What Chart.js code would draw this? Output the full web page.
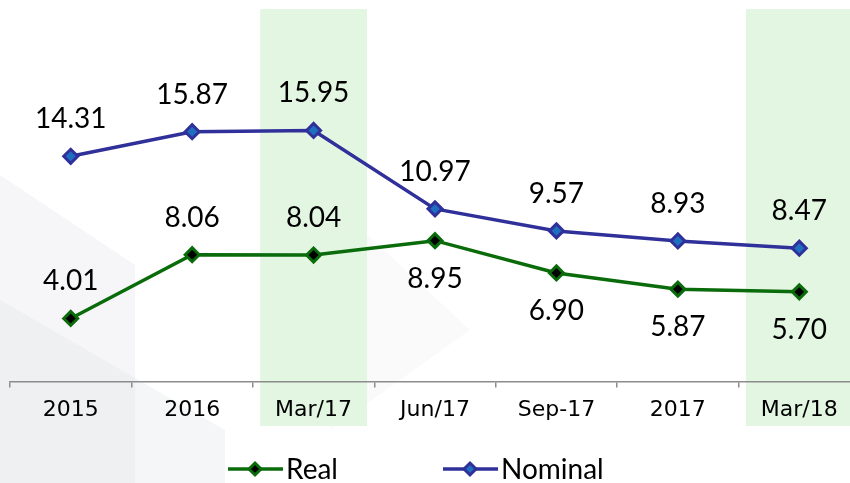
<!DOCTYPE html>
<html>
<head>
<meta charset="utf-8">
<script src="https://cdn.jsdelivr.net/npm/chart.js@4/dist/chart.umd.min.js"></script>
<style>
  html, body { margin: 0; padding: 0; background: #ffffff; overflow: hidden; width: 850px; height: 483px; }
  #wrap { position: relative; width: 870px; height: 483px; }
</style>
</head>
<body>
<div id="wrap"><canvas id="c" width="870" height="483"></canvas></div>
<script>
// ---- data ----
const categories = ['2015', '2016', 'Mar/17', 'Jun/17', 'Sep-17', '2017', 'Mar/18'];
const realValues = [4.01, 8.06, 8.04, 8.95, 6.90, 5.87, 5.70];
const nominalValues = [14.31, 15.87, 15.95, 10.97, 9.57, 8.93, 8.47];
const highlightedCategories = ['Mar/17', 'Mar/18'];
const realLabelSide = ['above', 'above', 'above', 'below', 'below', 'below', 'below'];
const nominalLabelSide = ['above', 'above', 'above', 'above', 'above', 'above', 'above'];
const seriesNames = ['Real', 'Nominal'];

// ---- styles ----
const REAL_LINE = '#0a6b0a';
const REAL_FILL = '#000000';
const NOM_LINE = '#30309a';
const NOM_FILL = '#1f6fc0';
const LABEL_FONT = '28px Lato, "Open Sans", sans-serif';

const bgPlugin = {
  id: 'bg',
  beforeDraw(chart) {
    const ctx = chart.ctx;
    ctx.save();
    ctx.fillStyle = '#ffffff';
    ctx.fillRect(0, 0, chart.width, chart.height);
    // faint decorative background shapes
    ctx.fillStyle = 'rgba(228,230,234,0.35)';
    ctx.beginPath();
    ctx.moveTo(0, 175); ctx.lineTo(135, 265); ctx.lineTo(135, 483); ctx.lineTo(0, 483); ctx.closePath(); ctx.fill();
    ctx.fillStyle = 'rgba(222,224,228,0.3)';
    ctx.beginPath();
    ctx.moveTo(0, 300); ctx.lineTo(225, 430); ctx.lineTo(225, 483); ctx.lineTo(0, 483); ctx.closePath(); ctx.fill();
    ctx.fillStyle = 'rgba(235,237,240,0.25)';
    ctx.beginPath();
    ctx.moveTo(330, 200); ctx.lineTo(470, 330); ctx.lineTo(330, 430); ctx.closePath(); ctx.fill();
    ctx.restore();

    // highlight columns
    const x = chart.scales.x;
    const step = x.getPixelForValue(1) - x.getPixelForValue(0);
    const w = step * 0.88;
    ctx.save();
    ctx.fillStyle = '#e2f6e2';
    highlightedCategories.forEach(c => {
      const i = categories.indexOf(c);
      const cx = x.getPixelForValue(i);
      ctx.fillRect(cx - w / 2, 9, w, 417);
    });
    ctx.restore();
  }
};

const labelPlugin = {
  id: 'vlabels',
  afterDatasetsDraw(chart) {
    const ctx = chart.ctx;
    ctx.save();
    ctx.font = LABEL_FONT;
    ctx.fillStyle = '#000000';
    ctx.textAlign = 'center';
    ctx.textBaseline = 'middle';
    const sides = [realLabelSide, nominalLabelSide];
    chart.data.datasets.forEach((ds, di) => {
      const meta = chart.getDatasetMeta(di);
      meta.data.forEach((pt, i) => {
        const off = sides[di][i] === 'above' ? -37 : 38;
        ctx.fillText(ds.data[i].toFixed(2), pt.x, pt.y + off);
      });
    });
    ctx.restore();
  }
};

function diamond(ctx, x, y, r, fill, stroke) {
  ctx.beginPath();
  ctx.moveTo(x, y - r); ctx.lineTo(x + r, y); ctx.lineTo(x, y + r); ctx.lineTo(x - r, y); ctx.closePath();
  ctx.fillStyle = fill; ctx.fill();
  ctx.lineWidth = 3; ctx.strokeStyle = stroke; ctx.stroke();
}

const legendPlugin = {
  id: 'customLegend',
  afterDraw(chart) {
    const ctx = chart.ctx;
    ctx.save();
    const y = 469;
    const items = [
      { name: seriesNames[0], x0: 228, line: REAL_LINE, fill: REAL_FILL },
      { name: seriesNames[1], x0: 443, line: NOM_LINE, fill: NOM_FILL }
    ];
    items.forEach(it => {
      ctx.strokeStyle = it.line; ctx.lineWidth = 3.5;
      ctx.beginPath(); ctx.moveTo(it.x0, y); ctx.lineTo(it.x0 + 55, y); ctx.stroke();
      diamond(ctx, it.x0 + 27, y, 6, it.fill, it.line);
      ctx.font = LABEL_FONT;
      ctx.fillStyle = '#000';
      ctx.textAlign = 'left';
      ctx.textBaseline = 'middle';
      ctx.fillText(it.name, it.x0 + 58, y + 1);
    });
    ctx.restore();
  }
};

new Chart(document.getElementById('c'), {
  type: 'line',
  data: {
    labels: categories,
    datasets: [
      {
        label: seriesNames[0], data: realValues,
        borderColor: REAL_LINE, borderWidth: 3.5,
        pointStyle: 'rectRot', pointRadius: 7, pointBorderWidth: 3,
        pointBackgroundColor: REAL_FILL, pointBorderColor: REAL_LINE,
        tension: 0, fill: false
      },
      {
        label: seriesNames[1], data: nominalValues,
        borderColor: NOM_LINE, borderWidth: 3.5,
        pointStyle: 'rectRot', pointRadius: 7, pointBorderWidth: 3,
        pointBackgroundColor: NOM_FILL, pointBorderColor: NOM_LINE,
        tension: 0, fill: false
      }
    ]
  },
  options: {
    responsive: false,
    animation: false,
    devicePixelRatio: 1,
    layout: { padding: { left: 9, right: 10, top: 3, bottom: 51 } },
    plugins: { legend: { display: false }, tooltip: { enabled: false } },
    scales: {
      x: {
        offset: true,
        grid: { offset: true, drawOnChartArea: false, drawTicks: true, tickLength: 6, color: '#8c8c8c', lineWidth: 1.5 },
        border: { display: true, color: '#8c8c8c', width: 1.5 },
        ticks: { color: '#000', font: { family: '"DejaVu Sans", Verdana, sans-serif', size: 22 }, padding: 9, maxRotation: 0, autoSkip: false }
      },
      y: {
        display: false,
        min: 0, max: 23.6
      }
    }
  },
  plugins: [bgPlugin, labelPlugin, legendPlugin]
});
</script>
</body>
</html>
